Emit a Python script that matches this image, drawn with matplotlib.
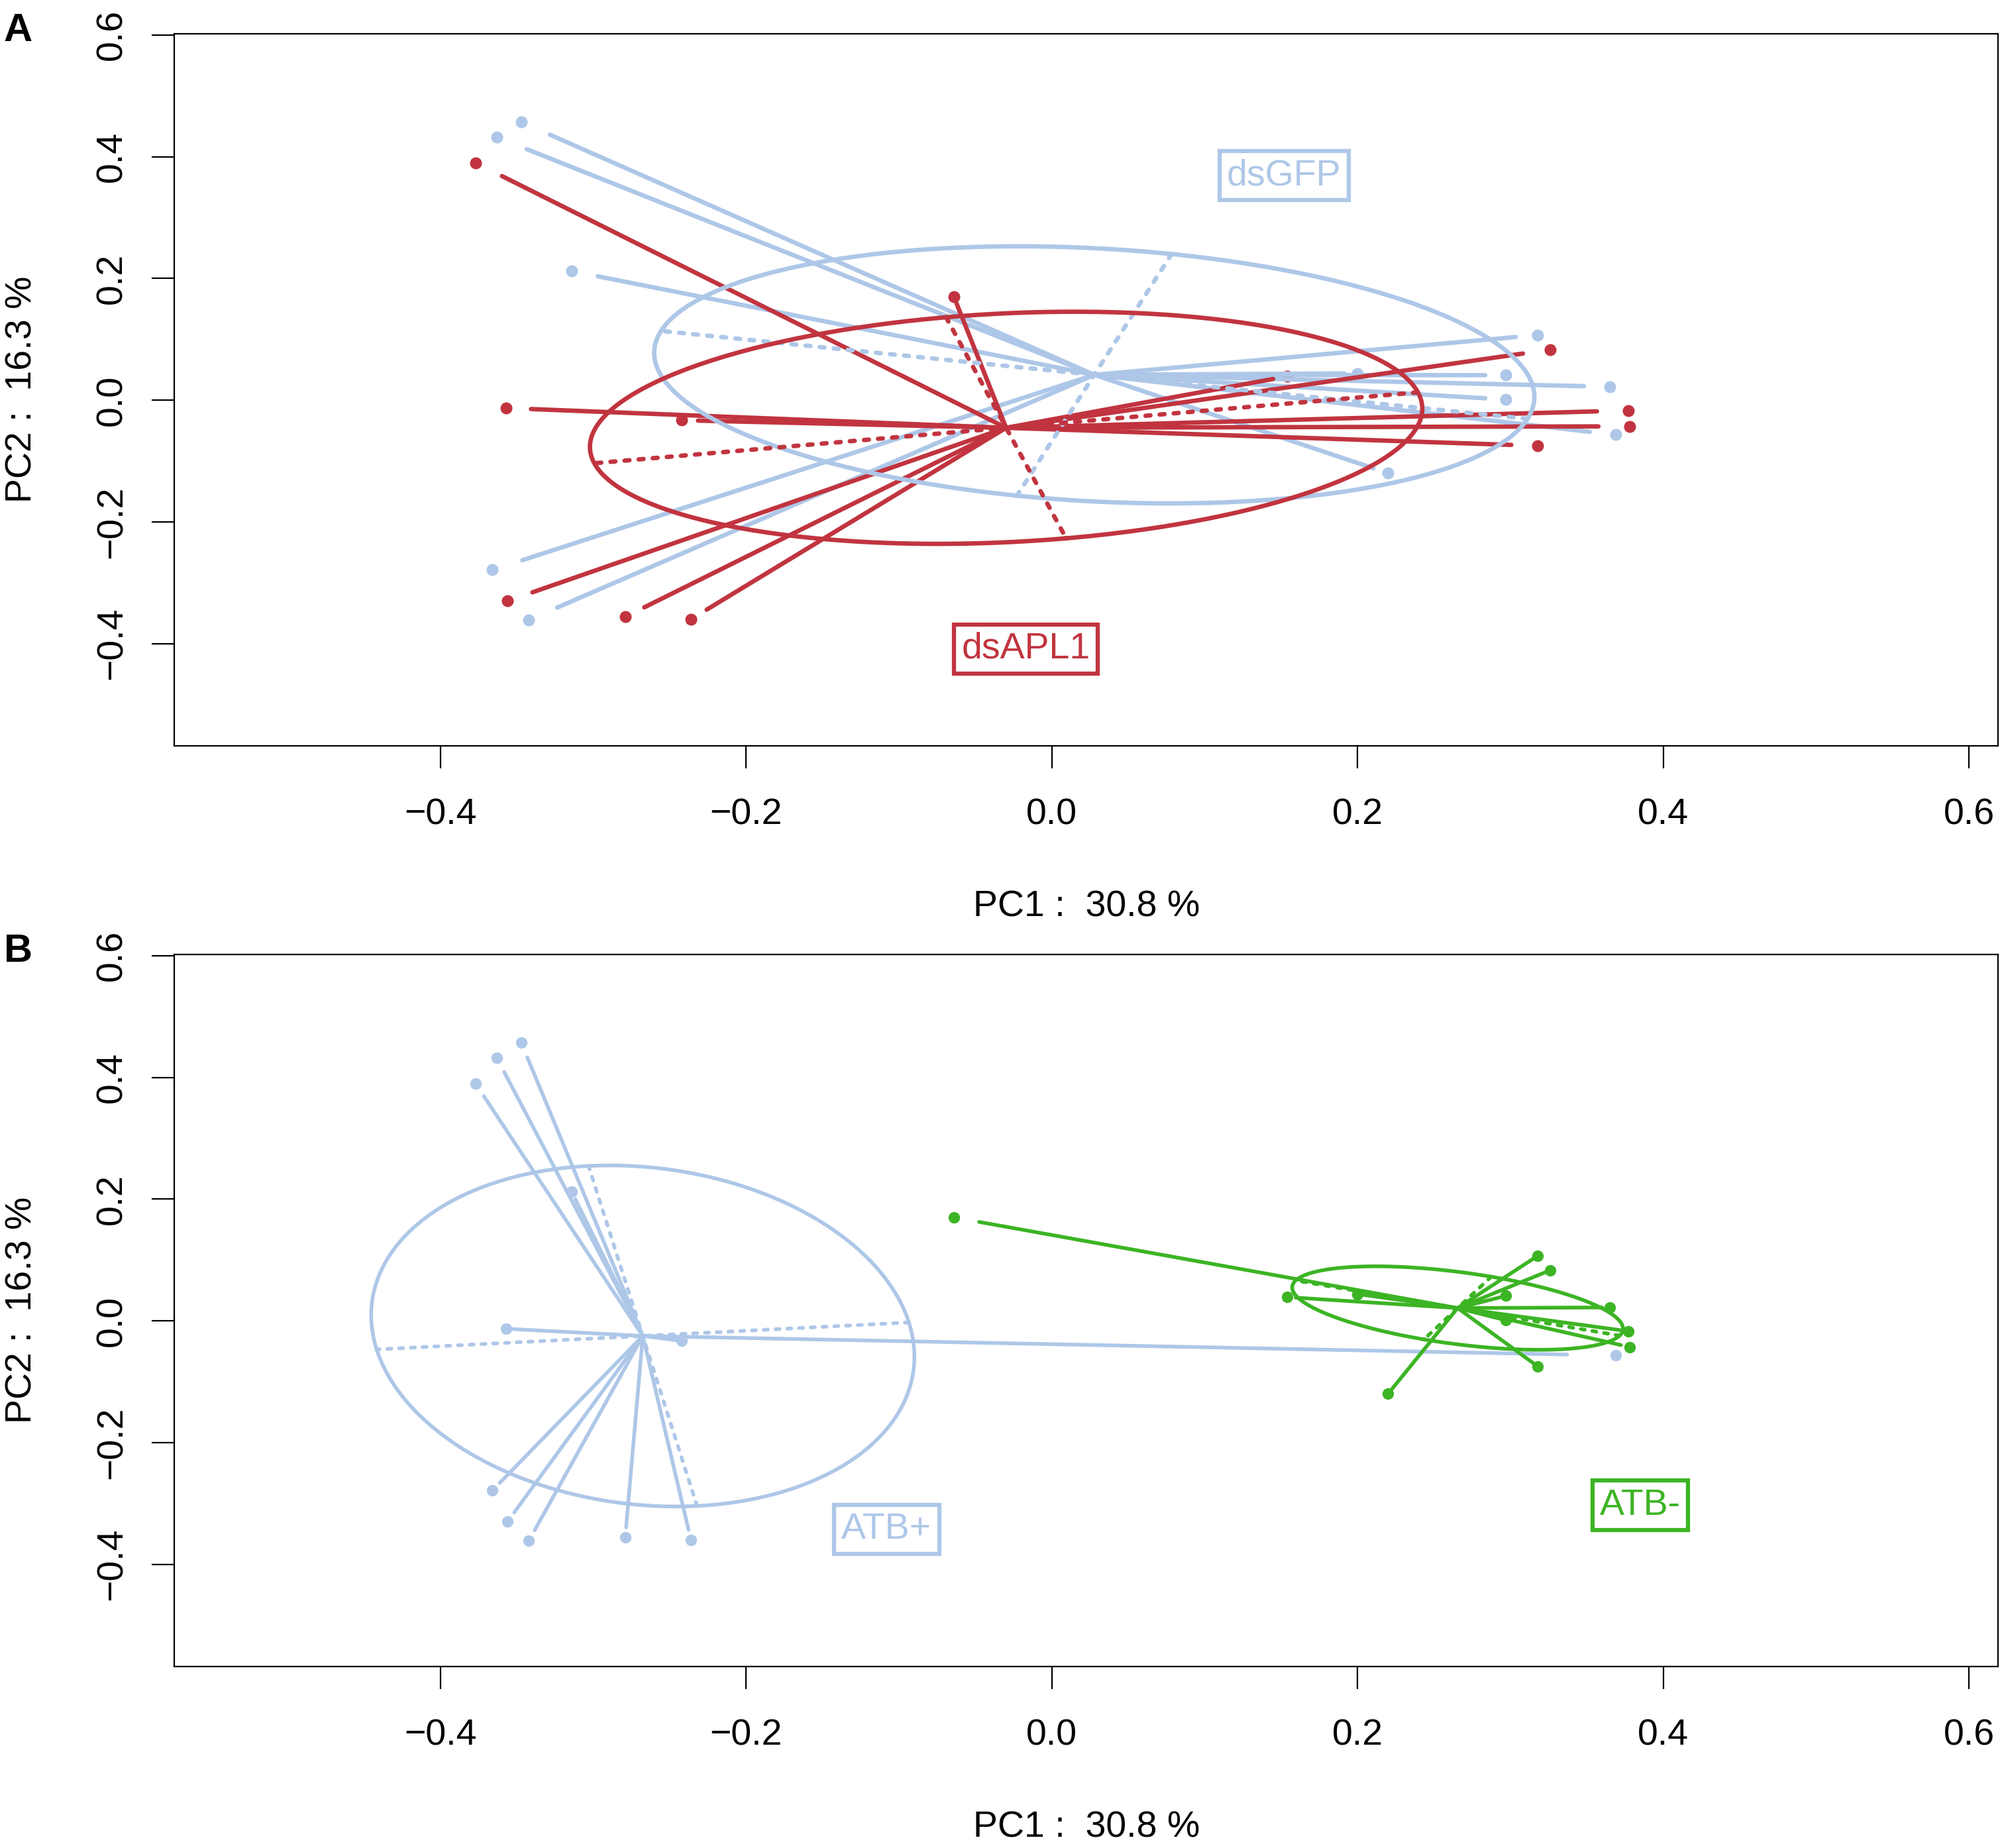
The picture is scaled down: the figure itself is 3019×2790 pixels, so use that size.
import numpy as np
import matplotlib.pyplot as plt

plt.rcParams['font.family'] = ['Liberation Sans', 'DejaVu Sans']

# PCA scores of the 24 samples
pc1 = [-0.347, -0.363, -0.314, 0.318, 0.200, 0.297, 0.365, 0.297, 0.369, 0.220, -0.366, -0.342,
       -0.377, -0.064, 0.326, -0.357, -0.242, 0.154, 0.377, 0.378, 0.318, -0.356, -0.279, -0.236]
pc2 = [0.457, 0.432, 0.212, 0.107, 0.044, 0.041, 0.022, 0.001, -0.057, -0.120, -0.279, -0.361,
       0.390, 0.170, 0.083, -0.013, -0.033, 0.039, -0.017, -0.043, -0.075, -0.330, -0.356, -0.360]
treatment = ['dsGFP'] * 12 + ['dsAPL1'] * 12
antibiotic = ['ATB+', 'ATB+', 'ATB+', 'ATB-', 'ATB-', 'ATB-', 'ATB-', 'ATB-', 'ATB+', 'ATB-', 'ATB+', 'ATB+',
              'ATB+', 'ATB-', 'ATB-', 'ATB+', 'ATB+', 'ATB-', 'ATB-', 'ATB-', 'ATB-', 'ATB+', 'ATB+', 'ATB+']

treat_levels = ['dsGFP', 'dsAPL1']
treat_label_x = [0.152, -0.017]
treat_label_y = [0.369, -0.409]
atb_levels = ['ATB+', 'ATB-']
atb_label_x = [-0.108, 0.385]
atb_label_y = [-0.343, -0.303]

x_ticks = [-0.4, -0.2, 0.0, 0.2, 0.4, 0.6]
y_ticks = [-0.4, -0.2, 0.0, 0.2, 0.4, 0.6]
x_label = 'PC1 :  30.8 %'
y_label = 'PC2 :  16.3 %'

col = {'dsGFP': '#aec7e8', 'dsAPL1': '#c1343f', 'ATB+': '#aec7e8', 'ATB-': '#3cb424'}

W, H = 3019, 2790
cstar = 0.95
cell = 0.9


def fmt(v):
    return ('%.1f' % v).replace('-', '\u2212')


def draw_classes(ax, groups, levels, lab_x, lab_y, lw, ms):
    x = np.array(pc1)
    y = np.array(pc2)
    g = np.array(groups)
    for lev in levels:
        m = g == lev
        ax.plot(x[m], y[m], 'o', color=col[lev], ms=ms, mec='none', zorder=2)
    # stars
    for lev in levels:
        m = g == lev
        cx, cy = x[m].mean(), y[m].mean()
        for px, py in zip(x[m], y[m]):
            ax.plot([cx, cx + cstar * (px - cx)], [cy, cy + cstar * (py - cy)],
                    color=col[lev], lw=lw, solid_capstyle='round', zorder=3)
    # ellipses with their axes
    for lev in levels:
        m = g == lev
        cx, cy = x[m].mean(), y[m].mean()
        cov = np.cov(np.vstack([x[m], y[m]]), bias=True)
        vals, vecs = np.linalg.eigh(cov)
        t = np.linspace(0, 2 * np.pi, 300)
        circ = np.vstack([np.cos(t), np.sin(t)])
        pts = vecs @ np.diag(cell * np.sqrt(vals)) @ circ
        ax.plot(cx + pts[0], cy + pts[1], color=col[lev], lw=lw, zorder=4)
        for k in range(2):
            d = cell * np.sqrt(vals[k]) * vecs[:, k]
            ax.plot([cx - d[0], cx + d[0]], [cy - d[1], cy + d[1]], color=col[lev], lw=lw,
                    dashes=(1.1, 2.1), dash_capstyle='round', zorder=4)
    for lev, lx, ly in zip(levels, lab_x, lab_y):
        ax.text(lx, ly, lev, color=col[lev], fontsize=40, ha='center', va='center', zorder=6,
                bbox=dict(boxstyle='square,pad=0.2', fc='white', ec=col[lev], lw=4.5))


def setup_axes(ax):
    ax.set_xlim(-0.574, 0.619)
    ax.set_ylim(-0.568, 0.602)
    ax.set_xticks(x_ticks)
    ax.set_yticks(y_ticks)
    ax.set_xticklabels([fmt(v) for v in x_ticks])
    ax.set_yticklabels([fmt(v) for v in y_ticks])
    for s in ax.spines.values():
        s.set_linewidth(1.6)
    ax.tick_params(direction='out', length=24.5, width=1.6, labelsize=40)
    ax.tick_params(axis='x', pad=32)
    ax.tick_params(axis='y', pad=24, labelrotation=90)
    for lab in ax.get_yticklabels():
        lab.set_va('center')


fig = plt.figure(figsize=(W / 100, H / 100), dpi=100)
left, right = 263 / W, 3016 / W
axA = fig.add_axes([left, 1 - 1126 / H, right - left, 1075 / H])
axB = fig.add_axes([left, 1 - 2516 / H, right - left, 1075 / H])

draw_classes(axA, treatment, treat_levels, treat_label_x, treat_label_y, lw=4.8, ms=13)
draw_classes(axB, antibiotic, atb_levels, atb_label_x, atb_label_y, lw=4.0, ms=12.5)
setup_axes(axA)
setup_axes(axB)

for top, letter in [(0, 'A'), (1390, 'B')]:
    fig.text(6 / W, 1 - (62 + top) / H, letter, fontsize=43, fontweight='bold', ha='left', va='baseline')
    fig.text(1640 / W, 1 - (1383 + top) / H, x_label, fontsize=40, ha='center', va='baseline')
    fig.text(48 / W, 1 - (588 + top) / H, y_label, fontsize=40, rotation=90, rotation_mode='anchor',
             ha='center', va='baseline')

fig.savefig('out.png', dpi=100)
